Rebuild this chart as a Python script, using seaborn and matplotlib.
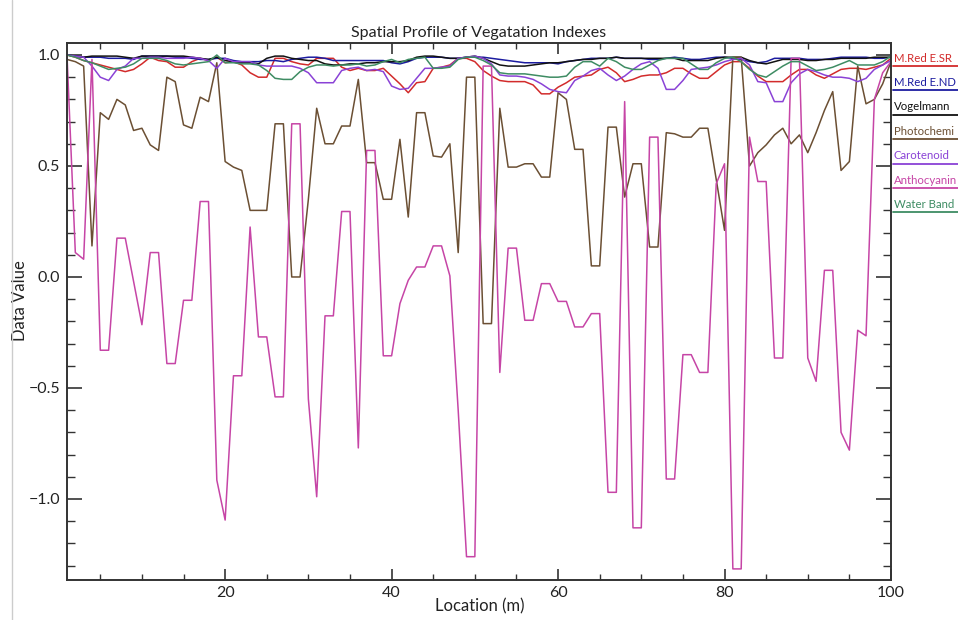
import pandas as pd
import matplotlib
matplotlib.use("Agg")
import matplotlib.pyplot as plt
import seaborn as sns
from matplotlib.lines import Line2D
from matplotlib.ticker import MultipleLocator

# x positions along the transect (m)
location = list(range(1, 101))

mred_sr = [
    1.0, 0.99, 0.975, 0.965, 0.955, 0.945, 0.935, 0.925, 0.935, 0.96,
    0.99, 0.975, 0.97, 0.945, 0.945, 0.97, 0.985, 0.975, 0.99, 0.965,
    0.97, 0.955, 0.92, 0.90, 0.90, 0.985, 0.985, 0.97, 0.96, 0.955,
    0.985, 0.985, 0.985, 0.945, 0.93, 0.94, 0.93, 0.93, 0.94, 0.905,
    0.87, 0.83, 0.875, 0.88, 0.94, 0.945, 0.955, 0.985, 0.985, 0.97,
    0.93, 0.905, 0.885, 0.88, 0.88, 0.88, 0.865, 0.825, 0.825, 0.855,
    0.875, 0.90, 0.905, 0.91, 0.935, 0.945, 0.92, 0.88, 0.89, 0.905,
    0.91, 0.91, 0.92, 0.94, 0.94, 0.915, 0.895, 0.895, 0.925, 0.955,
    0.97, 0.97, 0.94, 0.905, 0.88, 0.88, 0.88, 0.91, 0.935, 0.935,
    0.91, 0.895, 0.915, 0.935, 0.94, 0.94, 0.935, 0.945, 0.955, 0.985,
]

mred_nd = [
    1.0, 0.995, 0.99, 0.99, 0.99, 0.985, 0.985, 0.985, 0.98, 0.995,
    0.995, 0.995, 0.995, 0.99, 0.99, 0.985, 0.98, 0.98, 0.985, 0.985,
    0.975, 0.97, 0.97, 0.97, 0.975, 0.975, 0.97, 0.98, 0.985, 0.99,
    0.99, 0.985, 0.975, 0.975, 0.975, 0.975, 0.975, 0.975, 0.975, 0.965,
    0.96, 0.97, 0.985, 0.99, 0.99, 0.99, 0.985, 0.985, 0.99, 0.99,
    0.99, 0.985, 0.98, 0.975, 0.97, 0.965, 0.965, 0.965, 0.965, 0.96,
    0.97, 0.975, 0.98, 0.985, 0.985, 0.985, 0.99, 0.985, 0.985, 0.985,
    0.98, 0.98, 0.985, 0.99, 0.985, 0.98, 0.98, 0.985, 0.99, 0.99,
    0.985, 0.98, 0.97, 0.965, 0.97, 0.985, 0.985, 0.985, 0.985, 0.98,
    0.98, 0.98, 0.985, 0.99, 0.99, 0.99, 0.99, 0.985, 0.985, 0.99,
]

vogelmann = [
    1.0, 0.995, 0.99, 0.995, 0.995, 0.995, 0.995, 0.99, 0.985, 0.995,
    0.995, 0.995, 0.995, 0.995, 0.995, 0.99, 0.985, 0.98, 0.99, 0.975,
    0.97, 0.965, 0.965, 0.96, 0.985, 0.995, 0.995, 0.985, 0.98, 0.975,
    0.975, 0.96, 0.955, 0.955, 0.96, 0.96, 0.965, 0.965, 0.97, 0.97,
    0.97, 0.975, 0.99, 0.995, 0.995, 0.99, 0.985, 0.985, 0.99, 0.995,
    0.985, 0.97, 0.955, 0.95, 0.95, 0.95, 0.955, 0.96, 0.965, 0.965,
    0.97, 0.975, 0.98, 0.98, 0.985, 0.985, 0.99, 0.985, 0.985, 0.985,
    0.985, 0.985, 0.985, 0.985, 0.975, 0.975, 0.975, 0.975, 0.985, 0.99,
    0.99, 0.99, 0.975, 0.965, 0.96, 0.97, 0.98, 0.98, 0.98, 0.975,
    0.975, 0.98, 0.98, 0.985, 0.985, 0.985, 0.985, 0.99, 0.99, 0.99,
]

photochemical = [
    0.98, 0.97, 0.95, 0.14, 0.74, 0.71, 0.80, 0.775, 0.66, 0.67,
    0.595, 0.57, 0.90, 0.88, 0.685, 0.67, 0.81, 0.79, 0.965, 0.52,
    0.495, 0.48, 0.30, 0.30, 0.30, 0.69, 0.69, 0.0, 0.0, 0.35,
    0.76, 0.60, 0.60, 0.68, 0.68, 0.89, 0.515, 0.515, 0.35, 0.35,
    0.62, 0.27, 0.74, 0.74, 0.545, 0.54, 0.60, 0.11, 0.90, 0.90,
    -0.21, -0.21, 0.76, 0.495, 0.495, 0.51, 0.51, 0.45, 0.45, 0.83,
    0.80, 0.575, 0.575, 0.05, 0.05, 0.675, 0.675, 0.36, 0.51, 0.51,
    0.135, 0.135, 0.65, 0.645, 0.63, 0.63, 0.67, 0.67, 0.44, 0.21,
    0.99, 0.99, 0.50, 0.56, 0.595, 0.64, 0.67, 0.60, 0.64, 0.56,
    0.65, 0.75, 0.835, 0.48, 0.52, 0.95, 0.78, 0.80, 0.87, 0.97,
]

carotenoid = [
    1.0, 0.995, 0.99, 0.95, 0.90, 0.885, 0.935, 0.95, 0.985, 0.985,
    0.99, 0.99, 0.985, 0.985, 0.985, 0.99, 0.985, 0.975, 0.94, 0.985,
    0.97, 0.97, 0.97, 0.955, 0.95, 0.95, 0.95, 0.95, 0.94, 0.92,
    0.875, 0.875, 0.875, 0.93, 0.94, 0.945, 0.93, 0.935, 0.925, 0.86,
    0.845, 0.85, 0.895, 0.94, 0.94, 0.945, 0.95, 0.985, 0.99, 0.995,
    0.985, 0.96, 0.91, 0.905, 0.905, 0.90, 0.89, 0.87, 0.845, 0.835,
    0.83, 0.885, 0.905, 0.93, 0.94, 0.91, 0.885, 0.905, 0.935, 0.96,
    0.97, 0.94, 0.845, 0.845, 0.885, 0.935, 0.94, 0.945, 0.955, 0.97,
    0.98, 0.985, 0.955, 0.88, 0.875, 0.79, 0.79, 0.875, 0.915, 0.935,
    0.925, 0.91, 0.90, 0.90, 0.895, 0.88, 0.895, 0.935, 0.955, 0.975,
]

anthocyanin = [
    1.0, 0.11, 0.08, 0.98, -0.33, -0.33, 0.175, 0.175, -0.02, -0.215,
    0.11, 0.11, -0.39, -0.39, -0.105, -0.105, 0.34, 0.34, -0.915, -1.095,
    -0.445, -0.445, 0.225, -0.27, -0.27, -0.54, -0.54, 0.69, 0.69, -0.55,
    -0.99, -0.175, -0.175, 0.295, 0.295, -0.77, 0.57, 0.57, -0.355, -0.355,
    -0.12, -0.015, 0.045, 0.045, 0.14, 0.14, 0.005, -0.6, -1.26, -1.26,
    0.95, 0.95, -0.43, 0.13, 0.13, -0.195, -0.195, -0.03, -0.03, -0.11,
    -0.11, -0.225, -0.225, -0.165, -0.165, -0.97, -0.97, 0.79, -1.13, -1.13,
    0.63, 0.63, -0.91, -0.91, -0.35, -0.35, -0.43, -0.43, 0.42, 0.51,
    -1.315, -1.315, 0.63, 0.43, 0.43, -0.365, -0.365, 0.985, 0.985, -0.365,
    -0.47, 0.03, 0.03, -0.70, -0.78, -0.24, -0.265, 0.80, 0.92, 0.97,
]

water_band = [
    1.0, 0.99, 0.975, 0.965, 0.95, 0.935, 0.94, 0.945, 0.96, 0.985,
    0.985, 0.985, 0.975, 0.96, 0.955, 0.96, 0.965, 0.97, 1.0, 0.965,
    0.965, 0.96, 0.96, 0.955, 0.93, 0.895, 0.89, 0.89, 0.925, 0.945,
    0.955, 0.955, 0.95, 0.955, 0.955, 0.96, 0.95, 0.955, 0.97, 0.98,
    0.965, 0.98, 0.985, 0.99, 0.94, 0.94, 0.945, 0.98, 0.99, 0.99,
    0.975, 0.955, 0.92, 0.915, 0.915, 0.915, 0.91, 0.905, 0.90, 0.90,
    0.905, 0.945, 0.97, 0.97, 0.95, 0.985, 0.97, 0.945, 0.935, 0.935,
    0.955, 0.975, 0.985, 0.985, 0.985, 0.96, 0.935, 0.935, 0.965, 0.985,
    0.99, 0.97, 0.935, 0.91, 0.90, 0.925, 0.95, 0.97, 0.97, 0.95,
    0.93, 0.935, 0.945, 0.96, 0.975, 0.955, 0.955, 0.955, 0.97, 0.995,
]

# legend names as far as they are visible in the original margin
index_names = ["M.Red E.SR", "M.Red E.ND", "Vogelmann", "Photochemi",
               "Carotenoid", "Anthocyanin", "Water Band"]
index_colors = ["#d22b2b", "#1c1ca0", "#111111", "#6b4f33",
                "#8a42d6", "#c645a6", "#3e8c63"]
series = [mred_sr, mred_nd, vogelmann, photochemical,
          carotenoid, anthocyanin, water_band]

frames = []
for name, vals in zip(index_names, series):
    frames.append(pd.DataFrame({"Location": location, "Value": vals, "Index": name}))
df = pd.concat(frames, ignore_index=True)

sns.set_theme(style="ticks")
plt.rcParams["font.family"] = ["Lato", "DejaVu Sans"]

fig = plt.figure(figsize=(9.58, 6.2), dpi=100)
ax = fig.add_axes([67 / 958, 1 - 580 / 620, 824 / 958, 537 / 620])

sns.lineplot(data=df, x="Location", y="Value", hue="Index",
             hue_order=index_names, palette=dict(zip(index_names, index_colors)),
             estimator=None, linewidth=1.1, legend=False, ax=ax)

ax.set_xlim(1, 100)
ax.set_ylim(-1.365, 1.054)
ax.xaxis.set_major_locator(MultipleLocator(20))
ax.xaxis.set_minor_locator(MultipleLocator(5))
ax.yaxis.set_minor_locator(MultipleLocator(0.1))
ax.set_yticks([-1.0, -0.5, 0.0, 0.5, 1.0])
ax.set_yticklabels(["\u22121.0", "\u22120.5", "0.0", "0.5", "1.0"])

ax.tick_params(which="both", direction="in", top=True, right=True,
               color="#333333", labelsize=11.5, labelcolor="#222222")
ax.tick_params(axis="y", which="major", length=11, width=1.2, pad=5)
ax.tick_params(axis="y", which="minor", length=6, width=1.0)
ax.tick_params(axis="x", which="major", length=8, width=1.2, pad=4)
ax.tick_params(axis="x", which="minor", length=4, width=1.0)
for sp in ax.spines.values():
    sp.set_color("#333333")
    sp.set_linewidth(1.4)

ax.set_title("Spatial Profile of Vegatation Indexes", fontsize=11.5,
             color="#222222", pad=4)
ax.set_xlabel("Location (m)", fontsize=12, color="#222222")
ax.set_ylabel("Data Value", fontsize=12, color="#222222")
ax.xaxis.set_label_coords(0.501, -0.034)
ax.yaxis.set_label_coords(-0.047, 0.52)

# legend down the right margin: coloured text with an underline
for i, (name, col) in enumerate(zip(index_names, index_colors)):
    ytop = 58 + i * 24.4
    fig.text(894 / 958, 1 - ytop / 620, name, color=col, fontsize=8.2,
             ha="left", va="center")
    fig.add_artist(Line2D([893 / 958, 1.0], [1 - (ytop + 8) / 620] * 2,
                          color=col, linewidth=1.3, transform=fig.transFigure))

# thin grey frame line at the far left of the original capture
fig.add_artist(Line2D([12 / 958, 12 / 958], [0, 1], color="#cccccc",
                      linewidth=1.0, transform=fig.transFigure))

fig.savefig("out.png", dpi=100)
